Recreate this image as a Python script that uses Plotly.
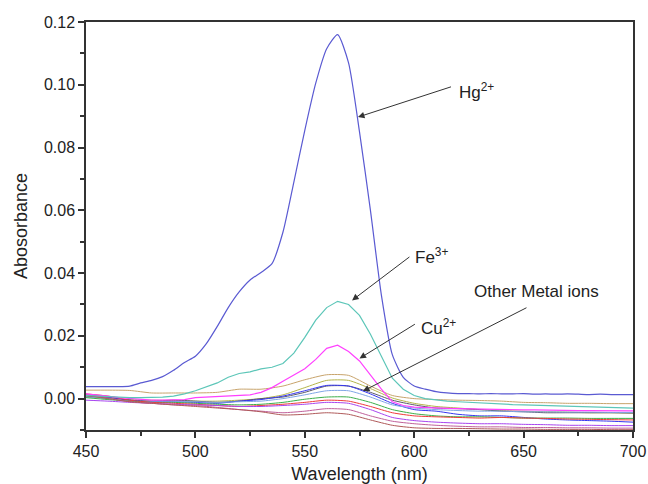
import plotly.graph_objects as go

# ---- data ----
wl5 = list(range(450, 701, 5))
wl10 = list(range(450, 701, 10))

hg = [0.0038, 0.0038, 0.0038, 0.0038, 0.0040, 0.0050, 0.0058, 0.0070, 0.0090, 0.0115,
      0.0135, 0.0175, 0.0230, 0.0290, 0.0340, 0.0378, 0.0402, 0.0430, 0.0530, 0.0690,
      0.0855, 0.1005, 0.1115, 0.1160, 0.1070, 0.0850, 0.0600, 0.0330, 0.0140, 0.0068,
      0.0040, 0.0030, 0.0022, 0.0018, 0.0016, 0.0016, 0.0015, 0.0016, 0.0015, 0.0015,
      0.0016, 0.0014, 0.0015, 0.0014, 0.0015, 0.0014, 0.0013, 0.0014, 0.0013, 0.0013,
      0.0013]

fe = [0.0010, 0.0008, 0.0005, 0.0005, 0.0003, 0.0003, 0.0003, 0.0005, 0.0008, 0.0015,
      0.0025, 0.0038, 0.0050, 0.0068, 0.0080, 0.0085, 0.0095, 0.0100, 0.0112, 0.0145,
      0.0195, 0.0250, 0.0290, 0.0310, 0.0300, 0.0265, 0.0205, 0.0135, 0.0065, 0.0030,
      0.0010, 0.0000, -0.0005, -0.0008, -0.0010, -0.0012, -0.0015, -0.0016, -0.0018, -0.0019,
      -0.0020, -0.0021, -0.0022, -0.0023, -0.0025, -0.0026, -0.0028, -0.0029, -0.0030, -0.0030,
      -0.0030]

cu = [0.0015, 0.0012, 0.0008, 0.0003, 0.0000, -0.0003, -0.0005, -0.0005, -0.0005, -0.0003,
      0.0003, 0.0005, 0.0005, 0.0007, 0.0010, 0.0012, 0.0020, 0.0035, 0.0055, 0.0075,
      0.0095, 0.0125, 0.0160, 0.0170, 0.0150, 0.0120, 0.0075, 0.0030, -0.0010, -0.0022,
      -0.0027, -0.0029, -0.0030, -0.0031, -0.0032, -0.0033, -0.0034, -0.0034, -0.0035, -0.0035,
      -0.0036, -0.0036, -0.0037, -0.0037, -0.0038, -0.0038, -0.0038, -0.0038, -0.0039, -0.0039,
      -0.0039]

tan = [0.0027, 0.0027, 0.0026, 0.0018, 0.0018, 0.0018, 0.0020, 0.0030, 0.0030, 0.0040,
       0.0060, 0.0076, 0.0074, 0.0040, 0.0010, 0.0000, -0.0003, -0.0005, -0.0006, -0.0008,
       -0.0012, -0.0013, -0.0015, -0.0015, -0.0016, -0.0016]
olive = [0.0005, 0.0002, -0.0003, -0.0005, -0.0006, -0.0008, -0.0008, -0.0005, 0.0000, 0.0012,
         0.0035, 0.0058, 0.0058, 0.0032, 0.0002, -0.0015, -0.0025, -0.0030, -0.0035, -0.0038,
         -0.0040, -0.0042, -0.0043, -0.0045, -0.0045, -0.0046]
gray = [0.0008, 0.0003, -0.0005, -0.0008, -0.0005, -0.0008, -0.0012, -0.0008, 0.0000, 0.0005,
        0.0020, 0.0040, 0.0040, 0.0020, -0.0005, -0.0020, -0.0030, -0.0032, -0.0035, -0.0040,
        -0.0042, -0.0045, -0.0045, -0.0045, -0.0045, -0.0046]
blue = [0.0012, 0.0005, -0.0005, -0.0010, -0.0010, -0.0012, -0.0015, -0.0008, -0.0003, 0.0008,
        0.0025, 0.0042, 0.0040, 0.0015, -0.0015, -0.0035, -0.0040, -0.0050, -0.0055, -0.0055,
        -0.0060, -0.0065, -0.0068, -0.0070, -0.0072, -0.0075]
lightblue = [0.0005, 0.0000, -0.0008, -0.0010, -0.0010, -0.0010, -0.0012, -0.0010, -0.0008, 0.0000,
             0.0012, 0.0025, 0.0025, 0.0005, -0.0020, -0.0030, -0.0035, -0.0038, -0.0040, -0.0040,
             -0.0042, -0.0042, -0.0043, -0.0043, -0.0044, -0.0044]
green = [0.0003, -0.0003, -0.0008, -0.0012, -0.0012, -0.0015, -0.0018, -0.0020, -0.0018, -0.0012,
         -0.0002, 0.0005, 0.0005, -0.0012, -0.0035, -0.0048, -0.0055, -0.0058, -0.0058, -0.0060,
         -0.0062, -0.0062, -0.0062, -0.0063, -0.0063, -0.0063]
red = [0.0015, 0.0008, -0.0005, -0.0012, -0.0015, -0.0018, -0.0022, -0.0025, -0.0022, -0.0018,
       -0.0012, -0.0005, -0.0008, -0.0025, -0.0045, -0.0055, -0.0058, -0.0060, -0.0062, -0.0060,
       -0.0062, -0.0063, -0.0065, -0.0066, -0.0067, -0.0068]
purple = [-0.0005, -0.0008, -0.0012, -0.0015, -0.0018, -0.0020, -0.0022, -0.0025, -0.0025, -0.0022,
          -0.0018, -0.0012, -0.0015, -0.0035, -0.0060, -0.0070, -0.0075, -0.0078, -0.0080, -0.0080,
          -0.0082, -0.0083, -0.0085, -0.0085, -0.0086, -0.0086]
mauve = [0.0012, 0.0002, -0.0010, -0.0015, -0.0020, -0.0022, -0.0028, -0.0035, -0.0040, -0.0045,
         -0.0040, -0.0032, -0.0035, -0.0055, -0.0072, -0.0080, -0.0085, -0.0088, -0.0090, -0.0090,
         -0.0092, -0.0092, -0.0093, -0.0093, -0.0094, -0.0094]
brown = [0.0010, 0.0000, -0.0010, -0.0015, -0.0020, -0.0025, -0.0030, -0.0035, -0.0042, -0.0052,
         -0.0050, -0.0045, -0.0050, -0.0068, -0.0085, -0.0093, -0.0095, -0.0095, -0.0096, -0.0097,
         -0.0097, -0.0098, -0.0098, -0.0098, -0.0099, -0.0099]

x_ticks = [450, 500, 550, 600, 650, 700]
y_ticks = [0.00, 0.02, 0.04, 0.06, 0.08, 0.10, 0.12]

minor_series = [
    (tan, "#C8A46C"), (olive, "#B4B44A"), (gray, "#5A5A6A"), (blue, "#3535F0"),
    (lightblue, "#7FA6E6"), (green, "#3CAF4A"), (red, "#F03A3A"), (purple, "#A844F0"),
    (mauve, "#C0609A"), (brown, "#B05A5A"),
]

FONT = "Liberation Sans, Arial, sans-serif"

fig = go.Figure()
for vals, col in minor_series:
    fig.add_trace(go.Scatter(x=wl10, y=vals, mode="lines",
                             line=dict(color=col, width=1, shape="spline", smoothing=0.6),
                             showlegend=False, hoverinfo="skip"))
fig.add_trace(go.Scatter(x=wl5, y=cu, mode="lines", line=dict(color="#FF40FF", width=1.2),
                         showlegend=False))
fig.add_trace(go.Scatter(x=wl5, y=fe, mode="lines", line=dict(color="#5CC6B8", width=1.2),
                         showlegend=False))
fig.add_trace(go.Scatter(x=wl5, y=hg, mode="lines",
                         line=dict(color="#5A5AD2", width=1.2, shape="spline", smoothing=0.6),
                         showlegend=False))

txt_font = dict(family=FONT, size=17, color="#222")
labels = [
    # text, text x, text y, arrow tail x, tail y, tip x, tip y
    ("Hg<sup>2+</sup>", 619.5, 0.0980, 617.5, 0.0995, 574.3, 0.0897),
    ("Fe<sup>3+</sup>", 599.5, 0.0455, 598.5, 0.0455, 571.6, 0.0313),
    ("Cu<sup>2+</sup>", 602.0, 0.0228, 601.0, 0.0240, 575.0, 0.0128),
    ("Other Metal ions", 626.5, 0.0340, 652.0, 0.0292, 576.6, 0.0024),
]
for t, tx, ty, ax, ay, px, py in labels:
    fig.add_annotation(x=px, y=py, ax=ax, ay=ay, xref="x", yref="y", axref="x", ayref="y",
                       text="", showarrow=True, arrowhead=2, arrowsize=1.3, arrowwidth=1,
                       arrowcolor="#333")
    fig.add_annotation(x=tx, y=ty, xref="x", yref="y", text=t, showarrow=False,
                       xanchor="left", yanchor="middle", font=txt_font)

axis_common = dict(showline=True, linecolor="#333", linewidth=1.5, mirror=True,
                   ticks="outside", ticklen=6, tickwidth=1.5, tickcolor="#333",
                   showgrid=False, zeroline=False, automargin=False,
                   tickfont=dict(family=FONT, size=16, color="#222"))

fig.update_xaxes(range=[450, 700], tickvals=x_ticks,
                 minor=dict(dtick=25, tick0=450, ticks="outside", ticklen=4, tickwidth=1.5,
                            tickcolor="#333"),
                 title=dict(text="Wavelength (nm)", standoff=9,
                            font=dict(family=FONT, size=18, color="#222")),
                 **axis_common)
fig.update_yaxes(range=[-0.01, 0.12], tickvals=y_ticks, tickformat=".2f",
                 minor=dict(dtick=0.01, tick0=0, ticks="outside", ticklen=4, tickwidth=1.5,
                            tickcolor="#333"),
                 title=dict(text="Abosorbance", standoff=12,
                            font=dict(family=FONT, size=18, color="#222")),
                 **axis_common)

fig.update_layout(width=648, height=484, margin=dict(l=86, r=15, t=22, b=54),
                  plot_bgcolor="white", paper_bgcolor="white", showlegend=False)

fig.write_html("out.html")
